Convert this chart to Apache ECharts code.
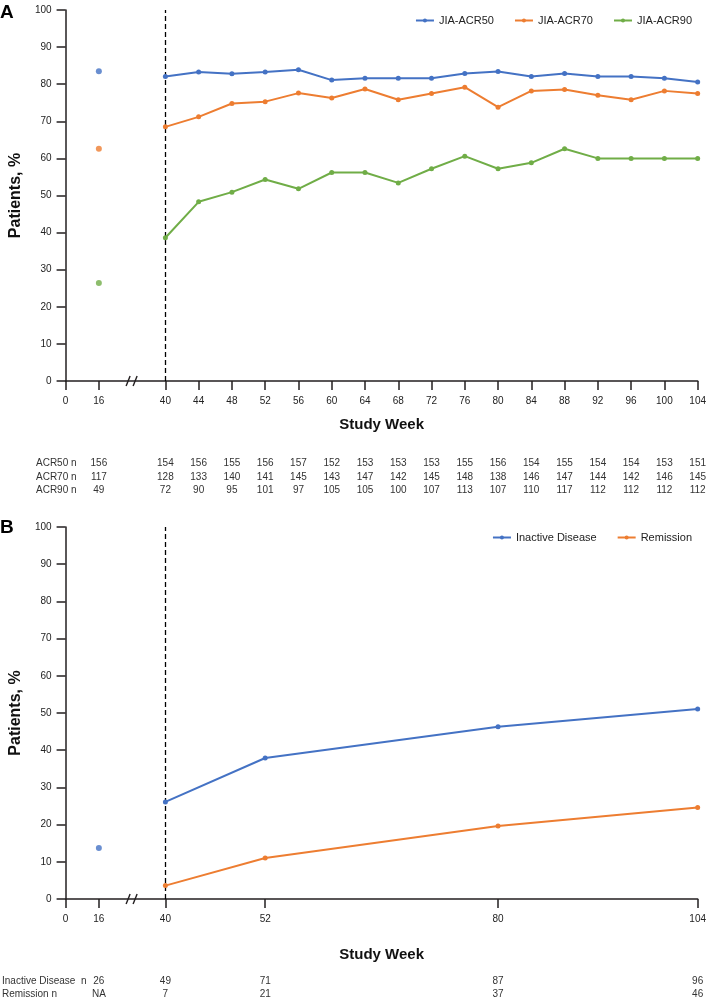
<!DOCTYPE html>
<html><head><meta charset="utf-8">
<script src="https://cdn.jsdelivr.net/npm/echarts@6/dist/echarts.min.js"></script>
<style>html,body{margin:0;padding:0;background:#fff}#c{width:709px;height:1001px}</style>
</head><body><div id="c"></div>
<script>
// ---- Data ----
const categories = ['0','16','','40','44','48','52','56','60','64','68','72','76','80','84','88','92','96','100','104'];
const weeksA = [40,44,48,52,56,60,64,68,72,76,80,84,88,92,96,100,104];
const acr50 = [82.1,83.3,82.8,83.3,83.9,81.1,81.6,81.6,81.6,82.9,83.4,82.1,82.9,82.1,82.1,81.6,80.6];
const acr70 = [68.5,71.2,74.8,75.3,77.6,76.3,78.7,75.8,77.5,79.2,73.8,78.2,78.6,77.0,75.8,78.2,77.5];
const acr90 = [38.6,48.3,50.9,54.3,51.8,56.2,56.2,53.4,57.2,60.6,57.2,58.8,62.6,60.0,60.0,60.0,60.0];
const baselineWeek = 16;
const acr50Base = 83.5, acr70Base = 62.6, acr90Base = 26.4;
const nWeeksA = [16,40,44,48,52,56,60,64,68,72,76,80,84,88,92,96,100,104];
const acr50N = [156,154,156,155,156,157,152,153,153,153,155,156,154,155,154,154,153,151];
const acr70N = [117,128,133,140,141,145,143,147,142,145,148,138,146,147,144,142,146,145];
const acr90N = [49,72,90,95,101,97,105,105,100,107,113,107,110,117,112,112,112,112];

const weeksB = [40,52,80,104];
const inactive = [26.1,37.9,46.3,51.1];
const remission = [3.6,11.0,19.6,24.6];
const inactiveBase = 13.7;
const shownB = ['0','16','40','52','80','104'];
const nWeeksB = [16,40,52,80,104];
const inactiveN = [26,49,71,87,96];
const remissionN = ['NA',7,21,37,46];

// ---- Styling ----
const FONT = '"Liberation Sans", Arial, Helvetica, sans-serif';
const BLUE = '#4472C4', ORANGE = '#ED7D31', GREEN = '#70AD47';
const AX = '#231F20', TXT = '#222';

const idx = w => categories.indexOf(String(w));

function mainX(grid, name, nameGap, filterFn) {
  return {
    type: 'category', gridIndex: grid, data: categories, boundaryGap: false, position: 'bottom',
    name: name, nameLocation: 'middle', nameGap: nameGap,
    nameTextStyle: { fontFamily: FONT, fontWeight: 'bold', fontSize: 15, color: '#111' },
    axisLine: { lineStyle: { color: AX, width: 1.5 } },
    axisTick: { length: 9, interval: filterFn, lineStyle: { color: AX, width: 1.5 } },
    axisLabel: { interval: filterFn, margin: 15, fontFamily: FONT, fontSize: 10, color: TXT },
    splitLine: { show: false }
  };
}
function nAxis(grid, offset, weeks, values) {
  const ws = weeks.map(String);
  return {
    type: 'category', gridIndex: grid, data: categories, boundaryGap: false, position: 'bottom',
    offset: offset,
    axisLine: { show: false }, axisTick: { show: false }, splitLine: { show: false },
    axisLabel: {
      interval: 0, margin: 0, fontFamily: FONT, fontSize: 10, color: '#333',
      formatter: (v) => { const k = ws.indexOf(v); return k >= 0 ? String(values[k]) : ''; }
    }
  };
}
function yAx(grid) {
  return {
    type: 'value', gridIndex: grid, min: 0, max: 100, interval: 10,
    name: 'Patients, %', nameLocation: 'middle', nameGap: 33,
    nameTextStyle: { fontFamily: FONT, fontWeight: 'bold', fontSize: 16, color: '#111' },
    axisLine: { show: true, lineStyle: { color: AX, width: 1.5 } },
    axisTick: { show: true, length: 9, lineStyle: { color: AX, width: 1.5 } },
    axisLabel: { margin: 14, fontFamily: FONT, fontSize: 10, color: TXT },
    splitLine: { show: false }
  };
}
function lineS(name, color, xi, yi, weeks, vals, withMark) {
  const s = {
    type: 'line', name: name, xAxisIndex: xi, yAxisIndex: yi,
    data: weeks.map((w, i) => [idx(w), vals[i]]),
    symbol: 'circle', symbolSize: 5, showSymbol: true,
    itemStyle: { color: color }, lineStyle: { color: color, width: 2 },
    z: 3
  };
  if (withMark) {
    s.markLine = {
      silent: true, symbol: 'none', label: { show: false },
      lineStyle: { color: '#000', type: [5, 3], width: 1.3 },
      emphasis: { disabled: true },
      data: [{ xAxis: idx(40) }], z: 1
    };
  }
  return s;
}
function pointS(name, color, xi, yi, val) {
  return {
    type: 'scatter', name: name, xAxisIndex: xi, yAxisIndex: yi,
    data: [[idx(baselineWeek), val]], symbol: 'circle', symbolSize: 6,
    itemStyle: { color: color }, z: 3
  };
}

const filterA = (i, v) => v !== '';
const filterB = (i, v) => shownB.indexOf(v) >= 0;

const rowLabel = (x, y, text) => ({
  type: 'text', x: x, y: y, silent: true,
  style: { text: text, font: '10px ' + FONT, fill: '#333', verticalAlign: 'middle', align: 'left' }
});

const legendBase = { itemWidth: 18, itemHeight: 5, itemGap: 20,
  textStyle: { fontFamily: FONT, fontSize: 11, color: TXT } };

const option = {
  animation: false,
  backgroundColor: '#fff',
  grid: [
    { left: 63, right: 10, top: 10, height: 371 },
    { left: 63, right: 10, top: 527, height: 372 }
  ],
  xAxis: [
    mainX(0, 'Study Week', 36, filterA),
    nAxis(0, 77, nWeeksA, acr50N),
    nAxis(0, 91, nWeeksA, acr70N),
    nAxis(0, 104, nWeeksA, acr90N),
    mainX(1, 'Study Week', 48, filterB),
    nAxis(1, 77, nWeeksB, inactiveN),
    nAxis(1, 90, nWeeksB, remissionN)
  ],
  yAxis: [yAx(0), yAx(1)],
  legend: [
    Object.assign({ data: ['JIA-ACR50', 'JIA-ACR70', 'JIA-ACR90'], right: 12, top: 10 }, legendBase),
    Object.assign({ data: ['Inactive Disease', 'Remission'], right: 12, top: 527 }, legendBase)
  ],
  series: [
    lineS('JIA-ACR50', BLUE, 0, 0, weeksA, acr50, true),
    lineS('JIA-ACR70', ORANGE, 0, 0, weeksA, acr70, false),
    lineS('JIA-ACR90', GREEN, 0, 0, weeksA, acr90, false),
    pointS('ACR50 baseline', BLUE, 0, 0, acr50Base),
    pointS('ACR70 baseline', ORANGE, 0, 0, acr70Base),
    pointS('ACR90 baseline', GREEN, 0, 0, acr90Base),
    lineS('Inactive Disease', BLUE, 4, 1, weeksB, inactive, true),
    lineS('Remission', ORANGE, 4, 1, weeksB, remission, false),
    pointS('Inactive baseline', BLUE, 4, 1, inactiveBase)
  ],
  graphic: [
    { type: 'text', x: 0, y: 3, silent: true, style: { text: 'A', font: 'bold 19px ' + FONT, fill: '#000' } },
    { type: 'text', x: 0, y: 518, silent: true, style: { text: 'B', font: 'bold 19px ' + FONT, fill: '#000' } },
    rowLabel(36, 463, 'ACR50 n'),
    rowLabel(36, 477, 'ACR70 n'),
    rowLabel(36, 490, 'ACR90 n'),
    rowLabel(2, 981, 'Inactive Disease  n'),
    rowLabel(2, 994, 'Remission n')
  ]
};

const chart = echarts.init(document.getElementById('c'), null, { renderer: 'canvas' });
chart.setOption(option);

// axis break marks computed from the library's own scales
function breakMark(xi, yi) {
  const x = chart.convertToPixel({ xAxisIndex: xi }, idx(''));
  const y = chart.convertToPixel({ yAxisIndex: yi }, 0);
  return {
    type: 'group', silent: true, z: 100,
    children: [
      { type: 'rect', shape: { x: x - 3, y: y - 2, width: 6, height: 4 }, style: { fill: '#fff' } },
      { type: 'line', shape: { x1: x - 6, y1: y + 5, x2: x - 2, y2: y - 5 }, style: { stroke: AX, lineWidth: 1.4 } },
      { type: 'line', shape: { x1: x + 1, y1: y + 5, x2: x + 5, y2: y - 5 }, style: { stroke: AX, lineWidth: 1.4 } }
    ]
  };
}
chart.setOption({ graphic: option.graphic.concat([breakMark(0, 0), breakMark(4, 1)]) });
</script></body></html>
